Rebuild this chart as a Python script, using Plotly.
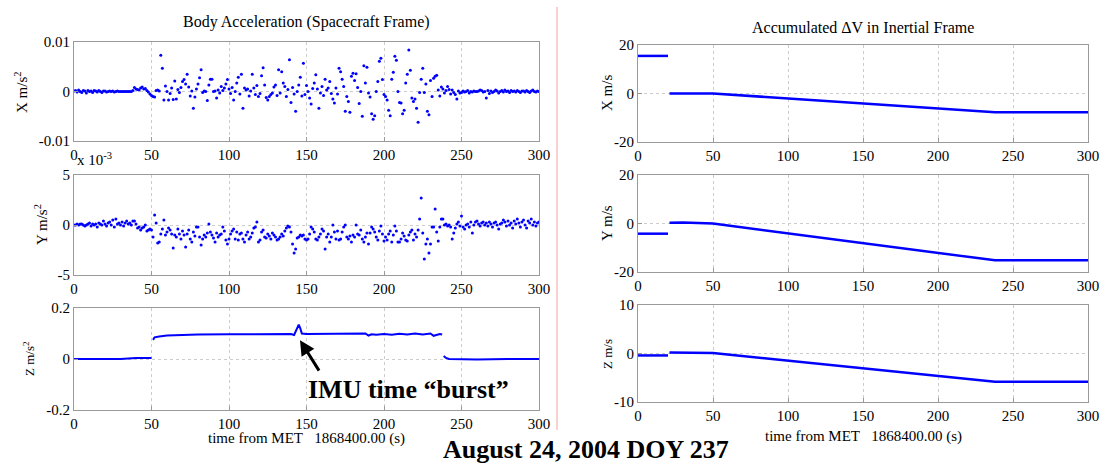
import plotly.graph_objects as go

W, H = 1105, 464
FONT = "Liberation Serif"
BLUE = "rgb(0,0,255)"

# ---------------- data ----------------
TIME_S = list(range(0, 301))

# Body acceleration X (units of 1e-3 m/s^2), one sample per second
X_ACC_MILLI = [
    0.1, 0.2, -0.1, 0.3, 0.0, -0.2, 0.2, 0.1, -0.3, 0.2,
    0.0, 0.1, -0.2, 0.2, 0.1, -0.1, 0.2, 0.0, -0.2, 0.1,
    0.1, -0.1, 0.0, 0.1, 0.0, 0.1, -0.1, 0.0, 0.1, 0.0,
    0.0, 0.0, 0.0, 0.0, 0.0, 0.0, 0.0, 0.0, 0.2, 0.8,
    0.5, 0.4, 0.3, 0.7, 0.9, 0.5, 0.6, 0.2, -0.1, -0.5,
    -0.8, -1.0, -1.1, 0.2, 0.3, 0.1, 7.3, 4.7, -1.7, 1.1,
    0.0, -1.7, -0.4, 0.7, -1.6, 2.1, -1.5, 0.4, -0.2, 0.8,
    2.0, 2.4, 1.5, 3.5, 0.9, -0.9, 0.1, -3.4, -1.1, 0.5,
    1.5, 2.8, 4.4, -0.2, 0.1, 0.0, -1.8, 1.3, 2.5, 2.5,
    0.0, 0.1, -1.3, 0.3, -0.3, 1.0, 0.2, 0.7, 1.5, 2.4,
    0.5, -0.4, 0.8, -1.7, 0.0, 1.7, 2.9, -0.5, 3.5, -3.4,
    0.7, 0.3, 0.5, -0.9, 0.1, 3.5, 0.7, -0.6, 1.2, -1.0,
    -0.4, 3.2, 4.8, 1.3, -1.2, -1.7, -1.0, -0.6, -0.3, 0.9,
    1.3, -0.8, 4.4, -0.3, 4.0, 1.7, 1.0, -1.0, 0.4, 6.4,
    -2.2, 0.8, -0.5, -4.0, 0.0, 1.3, 2.9, -0.9, 5.7, -0.6,
    1.2, 0.0, -1.3, -2.5, 0.6, 1.7, 3.4, 0.5, -3.4, -0.3,
    1.0, -0.8, 2.5, 0.3, 0.7, 2.0, -0.4, -1.5, -2.3, 0.7,
    -0.5, 4.7, 4.0, 2.5, 1.0, -4.0, -1.0, -2.0, -4.2, 3.1,
    3.7, 2.2, 3.6, 0.8, -2.4, 0.0, -5.0, 5.2, 1.7, 4.9,
    -0.3, -1.1, -4.5, -5.6, -4.9, 0.0, 2.0, 6.1, 6.7, 2.4,
    -0.6, -1.0, -1.7, -3.8, -4.9, 2.5, 3.9, 7.1, 6.3, 0.0,
    -2.2, -2.3, -4.5, -3.8, 1.7, 3.5, 8.4, 4.3, -1.3, -2.0,
    -1.5, -3.4, -6.2, -0.2, 2.5, 4.7, -0.2, 1.5, -4.0, -4.7,
    2.2, -1.0, 2.7, 3.1, 3.3, 0.3, -0.9, 0.9, 0.5, -0.3,
    0.2, 1.0, 0.4, -0.5, 0.3, -0.2, -0.6, -1.5, 0.1, -0.3,
    -0.2, 0.1, -0.1, 0.0, 0.2, -0.3, 0.0, -0.1, 0.1, 0.0,
    0.0, 0.1, 0.3, 0.2, -0.1, 0.0, -1.3, 0.2, -0.4, 0.1,
    -0.2, 0.0, 0.3, 0.1, -0.3, 0.0, 0.2, -0.1, 0.3, 0.0,
    0.1, -0.2, 0.2, 0.0, 0.1, -0.1, 0.2, 0.0, -0.2, 0.1,
    0.1, -0.1, 0.2, 0.0, -0.2, 0.1, 0.3, 0.0, -0.1, 0.1, 0.0,
]

# Body acceleration Y (units of 1e-3 m/s^2), one sample per second
Y_ACC_MILLI = [
    0.0, 0.0, 0.1, 0.0, 0.1, 0.1, 0.0, -0.1, 0.0, 0.1,
    0.2, -0.1, 0.1, 0.0, 0.1, -0.2, 0.2, 0.1, 0.0, 0.4,
    0.1, -0.1, 0.2, 0.3, 0.0, 0.5, -0.2, 0.6, 0.1, 0.2,
    0.0, 0.3, -0.1, 0.2, 0.4, 0.1, 0.2, 0.0, 0.4, 0.4,
    0.1, -0.3, -0.2, -0.5, -0.3, -0.2, 0.0, -0.6, -0.5, -0.4,
    -0.5, -1.2, 1.0, 0.2, -1.8, -1.7, -0.9, -0.4, 0.5, -1.0,
    -0.7, -0.3, -0.5, -0.9, -2.3, -1.0, -1.2, -0.4, -0.9, -1.4,
    -0.6, -1.0, -2.2, -0.9, -0.5, -1.4, -1.7, -0.7, -1.1, -0.2,
    -0.2, -1.2, -2.0, -1.4, -1.0, -1.2, -0.8, 0.1, -0.7, -1.0,
    -1.3, -1.7, -0.8, -1.2, -1.0, -0.9, -0.2, -0.6, -1.5, -1.9,
    -1.4, -0.9, -0.6, -0.4, -1.4, -0.7, -1.5, -0.9, -0.8, -1.4,
    -1.7, -1.0, -0.7, -1.4, -1.2, -0.8, -0.3, -0.2, 0.3, -1.7,
    -1.5, -0.7, -0.5, -1.2, -1.3, -0.9, -1.1, -1.4, -0.8, -1.0,
    -1.2, -1.5, -1.4, -1.2, -0.9, -1.1, -0.6, -0.3, -0.1, -0.2,
    -0.7, -1.9, -2.8, -2.4, -1.3, -1.2, -1.0, -1.1, -1.0, -1.4,
    -1.5, -1.4, -0.9, -0.2, -0.4, -0.7, -1.4, -1.5, -1.2, -0.9,
    -0.4, -0.6, -2.4, -1.2, -0.9, -1.7, -1.2, 0.0, -0.7, -1.4,
    -0.6, -1.5, -1.4, -0.7, -0.2, 0.0, -1.2, -1.4, -1.1, -1.7,
    -1.0, -1.2, 0.0, -0.9, -1.0, -0.5, -1.4, -1.7, -1.2, -0.8,
    -1.9, -0.8, -0.2, -0.4, -0.7, -1.2, -1.5, -0.6, -0.1, -0.9,
    -1.6, -1.2, -1.5, -0.9, -0.6, -1.7, -1.0, -0.1, -0.6, -1.7,
    -1.7, -1.4, -0.8, -1.1, -1.5, -1.6, -1.0, -0.7, -0.5, -1.5,
    -0.9, -1.2, -0.5, 0.6, 2.7, -0.8, -3.4, -1.9, -1.4, -2.8,
    -1.9, -0.2, -0.2, 1.6, -0.7, -1.6, -0.2, 0.6, 0.6, 0.0,
    0.1, -0.1, 0.0, -0.2, -1.4, -0.8, -0.3, 0.1, 0.3, -0.1,
    0.9, -0.2, -0.4, 0.0, 0.1, -0.2, 0.3, -0.8, 0.0, 0.3,
    0.4, 0.1, -0.1, 0.2, 0.3, 0.0, 0.2, -0.1, 0.3, 0.1,
    -0.2, 0.2, 0.3, 0.0, -0.4, 0.1, 0.2, 0.5, 0.3, -0.1,
    0.4, 0.0, 0.2, -0.3, 0.4, 0.1, 0.6, 0.2, -0.2, 0.3,
    0.5, 0.0, -0.3, 0.4, 0.2, 0.6, 0.0, 0.3, -0.1, 0.2, 0.3,
]

# Body acceleration Z (m/s^2): samples at listed times, None = gap
Z_ACC_T = [0, 10, 20, 30, 35, 40, 50, None,
           51, 52, 55, 60, 70, 80, 100, 120, 140, 142, 143, 144, 145, 146, 147,
           150, 170, 186, 188, 190, 192, 195, 200, 205, 210, 215, 220, 225,
           230, 232, 234, 236, 237.5, None,
           238.5, 240, 242, 260, 280, 300]
Z_ACC = [0.0, 0.0, -0.001, 0.0, 0.002, 0.004, 0.004, None,
         0.075, 0.085, 0.088, 0.092, 0.094, 0.096, 0.097, 0.097, 0.098, 0.094, 0.11, 0.125, 0.135, 0.12, 0.1,
         0.098, 0.098, 0.098, 0.1, 0.092, 0.097, 0.095, 0.098, 0.095, 0.099, 0.096, 0.1, 0.096,
         0.1, 0.091, 0.096, 0.098, 0.096, None,
         0.012, 0.004, 0.0, -0.002, 0.0, 0.0]

# Accumulated delta-V (m/s): breakpoints, None = gap
DV_T = [0, 20, None, 21, 30, 50, 238, 300]
DV_X = [15.5, 15.5, None, 0.0, 0.0, 0.0, -7.7, -7.7]
DV_Y = [-4.2, -4.2, None, 0.3, 0.4, 0.0, -15.2, -15.2]
DV_Z = [-0.4, -0.4, None, 0.2, 0.2, 0.1, -5.8, -5.8]

X_TICKS = [0, 50, 100, 150, 200, 250, 300]

# ---------------- figure ----------------
def px_x(p):
    return p / W

def px_y(p):
    return 1 - p / H

fig = go.Figure()

x_acc = [v * 1e-3 for v in X_ACC_MILLI]

fig.add_trace(go.Scatter(x=TIME_S, y=x_acc, mode="markers",
                         marker=dict(color=BLUE, size=3), xaxis="x", yaxis="y"))
fig.add_trace(go.Scatter(x=TIME_S, y=Y_ACC_MILLI, mode="markers",
                         marker=dict(color=BLUE, size=3), xaxis="x2", yaxis="y2"))
fig.add_trace(go.Scatter(x=Z_ACC_T, y=Z_ACC, mode="lines",
                         line=dict(color=BLUE, width=2), connectgaps=False,
                         xaxis="x3", yaxis="y3"))
fig.add_trace(go.Scatter(x=DV_T, y=DV_X, mode="lines",
                         line=dict(color=BLUE, width=2.5), connectgaps=False,
                         xaxis="x4", yaxis="y4"))
fig.add_trace(go.Scatter(x=DV_T, y=DV_Y, mode="lines",
                         line=dict(color=BLUE, width=2.5), connectgaps=False,
                         xaxis="x5", yaxis="y5"))
fig.add_trace(go.Scatter(x=DV_T, y=DV_Z, mode="lines",
                         line=dict(color=BLUE, width=2.5), connectgaps=False,
                         xaxis="x6", yaxis="y6"))

AX_COLOR = "#9a9a9a"
GRID = "#cccccc"
tickfont = dict(family=FONT, size=15, color="black")

def xaxis(domain, anchor):
    return dict(domain=domain, anchor=anchor, range=[0, 300], automargin=False,
                tickvals=X_TICKS, ticktext=[str(v) for v in X_TICKS],
                showline=True, mirror=True, linecolor=AX_COLOR, linewidth=1,
                ticks="inside", ticklen=4, tickcolor=AX_COLOR,
                showgrid=True, gridcolor=GRID, griddash="dot", gridwidth=1,
                zeroline=False, tickfont=tickfont)

def yaxis(domain, anchor, rng, vals, texts):
    return dict(domain=domain, anchor=anchor, range=rng, automargin=False,
                tickvals=vals, ticktext=texts,
                showline=True, mirror=True, linecolor=AX_COLOR, linewidth=1,
                ticks="inside", ticklen=4, tickcolor=AX_COLOR,
                showgrid=True, gridcolor=GRID, griddash="dot", gridwidth=1,
                zeroline=False, tickfont=tickfont)

LX = [px_x(74), px_x(539)]
RX = [px_x(638), px_x(1088)]
L1 = [px_y(141), px_y(42)]
L2 = [px_y(275), px_y(175)]
L3 = [px_y(410), px_y(308)]
R1 = [px_y(142), px_y(45)]
R2 = [px_y(272), px_y(175)]
R3 = [px_y(402), px_y(305)]

fig.update_layout(
    template="none",
    width=W, height=H,
    margin=dict(l=0, r=0, t=0, b=0, pad=0, autoexpand=False),
    paper_bgcolor="white", plot_bgcolor="white",
    font=dict(family=FONT, size=15, color="black"),
    showlegend=False,
    xaxis=xaxis(LX, "y"),
    yaxis=yaxis(L1, "x", [-0.01, 0.01], [-0.01, 0, 0.01], ["-0.01", "0", "0.01"]),
    xaxis2=xaxis(LX, "y2"),
    yaxis2=yaxis(L2, "x2", [-5, 5], [-5, 0, 5], ["-5", "0", "5"]),
    xaxis3=xaxis(LX, "y3"),
    yaxis3=yaxis(L3, "x3", [-0.2, 0.2], [-0.2, 0, 0.2], ["-0.2", "0", "0.2"]),
    xaxis4=xaxis(RX, "y4"),
    yaxis4=yaxis(R1, "x4", [-20, 20], [-20, 0, 20], ["-20", "0", "20"]),
    xaxis5=xaxis(RX, "y5"),
    yaxis5=yaxis(R2, "x5", [-20, 20], [-20, 0, 20], ["-20", "0", "20"]),
    xaxis6=xaxis(RX, "y6"),
    yaxis6=yaxis(R3, "x6", [-10, 10], [-10, 0, 10], ["-10", "0", "10"]),
)

def txt(x, y, text, size=15, angle=0, bold=False, xanchor="center"):
    t = f"<b>{text}</b>" if bold else text
    fig.add_annotation(x=px_x(x), y=px_y(y), xref="paper", yref="paper",
                       text=t, showarrow=False, textangle=angle,
                       xanchor=xanchor, yanchor="middle",
                       font=dict(family=FONT, size=size, color="black"))

txt(306, 22, "Body Acceleration (Spacecraft Frame)", size=16)
txt(863, 27, "Accumulated ΔV in Inertial Frame", size=16)

txt(21, 92, "X m/s<sup>2</sup>", size=15, angle=-90)
txt(41, 225, "Y m/s<sup>2</sup>", size=15, angle=-90)
txt(29, 359, "Z m/s<sup>2</sup>", size=13, angle=-90)
txt(607, 93, "X m/s", size=15, angle=-90)
txt(607, 223, "Y m/s", size=15, angle=-90)
txt(607, 354, "Z m/s", size=13, angle=-90)

txt(75, 159, "x 10<sup>-3</sup>", size=15, xanchor="left")

NB = "\u00a0"
txt(306, 438, f"time from MET{NB*3}1868400.00 (s)", size=15)
txt(863, 436, f"time from MET{NB*3}1868400.00 (s)", size=15)

txt(586, 449, "August 24, 2004 DOY 237", size=26, bold=True)
txt(408, 389, "IMU time “burst”", size=26, bold=True)

# arrow pointing at the burst
fig.add_annotation(x=145.8, y=0.074, xref="x3", yref="y3",
                   ax=20, ay=32, axref="pixel", ayref="pixel",
                   showarrow=True, arrowhead=2, arrowsize=1, arrowwidth=3,
                   arrowcolor="black", text="")

# separator line between panels
fig.add_shape(type="line", xref="paper", yref="paper",
              x0=px_x(557), x1=px_x(557), y0=px_y(7), y1=px_y(430),
              line=dict(color="#f4a0a0", width=1))

fig.write_html("out.html",
               config={"displayModeBar": False},
               post_script="document.body.style.margin='0';"
                           "document.body.style.overflow='hidden';")
